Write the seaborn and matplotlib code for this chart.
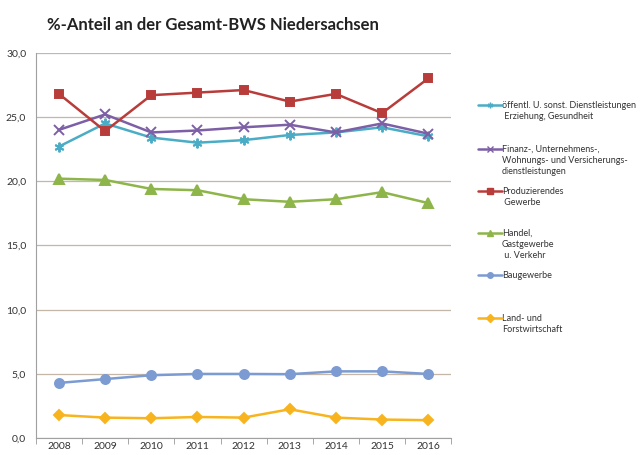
import matplotlib
matplotlib.use('Agg')
import matplotlib.pyplot as plt
import seaborn as sns
import pandas as pd
import numpy as np
from matplotlib.lines import Line2D
from matplotlib.ticker import FixedLocator, FuncFormatter

years = ['2008', '2009', '2010', '2011', '2012', '2013', '2014', '2015', '2016']

oeffentl = [22.7, 24.5, 23.4, 23.0, 23.2, 23.6, 23.8, 24.2, 23.5]
finanz = [24.0, 25.2, 23.8, 23.95, 24.2, 24.4, 23.8, 24.5, 23.7]
produz = [26.8, 23.9, 26.7, 26.9, 27.1, 26.2, 26.8, 25.3, 28.0]
handel = [20.2, 20.1, 19.4, 19.3, 18.6, 18.4, 18.6, 19.15, 18.3]
bau = [4.3, 4.6, 4.9, 5.0, 5.0, 4.98, 5.2, 5.2, 5.0]
land = [1.8, 1.6, 1.55, 1.65, 1.6, 2.25, 1.6, 1.45, 1.4]

labels = [
    'öffentl. U. sonst. Dienstleistungen\n Erziehung, Gesundheit',
    'Finanz-, Unternehmens-,\nWohnungs- und Versicherungs-\ndienstleistungen',
    'Produzierendes\n Gewerbe',
    'Handel,\nGastgewerbe\n u. Verkehr',
    'Baugewerbe',
    'Land- und\nForstwirtschaft',
]
series = [oeffentl, finanz, produz, handel, bau, land]
colors = ['#4bacc6', '#7d5fa6', '#b83c3a', '#8db54a', '#7b9bd2', '#f8b41e']
markers = [(6, 2, 0), 'x', 's', '^', 'o', 'D']
msizes = [7, 6.5, 6, 6.5, 6.5, 5]
# legend row position (pixels from top) of each entry
legend_y = [106, 150, 192, 234, 276, 319]

sns.set_style('white')
plt.rcParams['font.family'] = ['Lato', 'DejaVu Sans']

W, H = 641, 455
fig = plt.figure(figsize=(W / 100, H / 100), dpi=100)
ax = fig.add_axes([0.056, 0.037, 0.648, 0.847])

rows = []
for lab, vals in zip(labels, series):
    for i, v in enumerate(vals):
        rows.append({'pos': i, 'wert': v, 'reihe': lab})
df = pd.DataFrame(rows)

for lab, col, mk, ms in zip(labels, colors, markers, msizes):
    sub = df[df['reihe'] == lab]
    sns.lineplot(data=sub, x='pos', y='wert', ax=ax, color=col, marker=mk,
                 markersize=ms, linewidth=1.8, legend=False,
                 markeredgecolor=col, markeredgewidth=1.4)

ax.set_xlim(-0.5, len(years) - 0.5)
ax.set_ylim(0, 30)
ax.set_yticks(np.arange(0, 31, 5))
ax.yaxis.set_major_formatter(FuncFormatter(lambda v, p: f'{v:.1f}'.replace('.', ',')))
ax.set_xticks(range(len(years)))
ax.set_xticklabels(years)
ax.xaxis.set_minor_locator(FixedLocator(np.arange(-0.5, len(years), 1)))
ax.tick_params(axis='x', which='major', length=0, labelsize=7.5, pad=3, colors='#333333')
ax.tick_params(axis='x', which='minor', length=4, color='#999999', direction='out', bottom=True)
ax.tick_params(axis='y', length=0, labelsize=7.5, pad=7, colors='#333333')
ax.grid(axis='y', color='#c4b7a8', linewidth=0.9)
ax.set_axisbelow(True)
ax.set_xlabel('')
ax.set_ylabel('')
for s in ['top', 'right']:
    ax.spines[s].set_visible(False)
ax.spines['left'].set_color('#a0a0a0')
ax.spines['bottom'].set_color('#a0a0a0')

# legend: one small handle per entry, label text beside it
for lab, col, mk, yp in zip(labels, colors, markers, legend_y):
    h = Line2D([], [], color=col, marker=mk, markersize=4, linewidth=1.8,
               markeredgecolor=col, markeredgewidth=1)
    fig.legend(handles=[h], labels=[''], loc='center left',
               bbox_to_anchor=(478 / W, 1 - yp / H), frameon=False,
               borderpad=0, borderaxespad=0, handlelength=2.5,
               handletextpad=0, fontsize=7)
    fig.text(502 / W, 1 - (yp - 5) / H, lab, fontsize=6.5, va='top', ha='left',
             color='#333333', linespacing=1.3)

fig.text(0.073, 0.945, '%-Anteil an der Gesamt-BWS Niedersachsen',
         fontsize=12, fontweight='bold', color='#222222', va='center')

fig.savefig('out.png', dpi=100)
